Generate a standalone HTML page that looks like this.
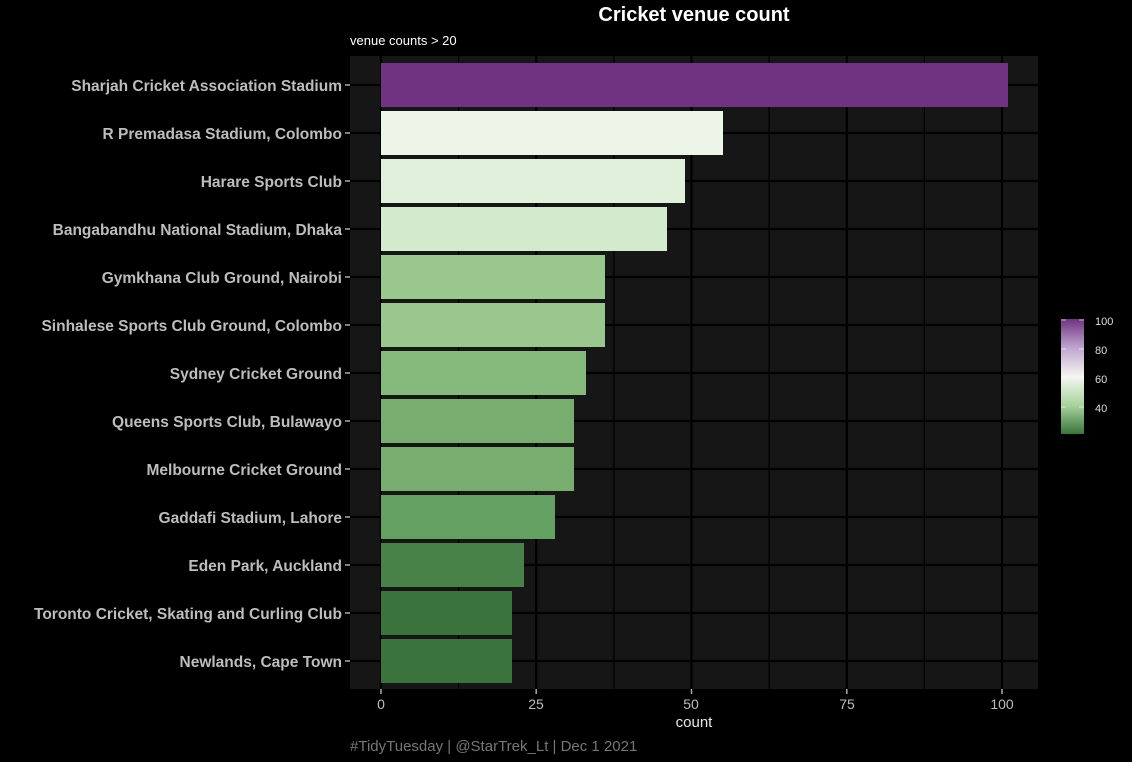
<!DOCTYPE html>
<html><head><style>
body{margin:0;background:#000;width:1132px;height:762px;overflow:hidden}
svg{display:block}
text{font-family:"Liberation Sans",sans-serif}
</style></head><body>
<svg width="1132" height="762" xmlns="http://www.w3.org/2000/svg">
<defs>
<linearGradient id="lg" x1="0" y1="1" x2="0" y2="0">
<stop offset="0" stop-color="#3a743c"/>
<stop offset="0.25" stop-color="#a8d39d"/>
<stop offset="0.5" stop-color="#f4f6f2"/>
<stop offset="0.75" stop-color="#c1a5cf"/>
<stop offset="1" stop-color="#6f3381"/>
</linearGradient>
</defs>
<rect width="1132" height="762" fill="#000"/>
<rect x="350" y="56" width="688" height="633" fill="#161616"/>
<g stroke="#000">
<g stroke-width="1.2">
<line x1="458.6" y1="56" x2="458.6" y2="689"/><line x1="613.9" y1="56" x2="613.9" y2="689"/><line x1="769.1" y1="56" x2="769.1" y2="689"/><line x1="924.4" y1="56" x2="924.4" y2="689"/>
</g>
<g stroke-width="2.2">
<line x1="381" y1="56" x2="381" y2="689"/><line x1="536.2" y1="56" x2="536.2" y2="689"/><line x1="691.5" y1="56" x2="691.5" y2="689"/><line x1="846.8" y1="56" x2="846.8" y2="689"/><line x1="1002" y1="56" x2="1002" y2="689"/>
<line x1="350" y1="85" x2="1038" y2="85"/><line x1="350" y1="133" x2="1038" y2="133"/><line x1="350" y1="181" x2="1038" y2="181"/><line x1="350" y1="229" x2="1038" y2="229"/><line x1="350" y1="277" x2="1038" y2="277"/><line x1="350" y1="325" x2="1038" y2="325"/><line x1="350" y1="373" x2="1038" y2="373"/><line x1="350" y1="421" x2="1038" y2="421"/><line x1="350" y1="469" x2="1038" y2="469"/><line x1="350" y1="517" x2="1038" y2="517"/><line x1="350" y1="565" x2="1038" y2="565"/><line x1="350" y1="613" x2="1038" y2="613"/><line x1="350" y1="661" x2="1038" y2="661"/>
</g>
</g>
<g>
<rect x="381" y="63" width="627" height="44" fill="#6f3381"/>
<rect x="381" y="111" width="342" height="44" fill="#edf5e9"/>
<rect x="381" y="159" width="304" height="44" fill="#e0f0da"/>
<rect x="381" y="207" width="286" height="44" fill="#d4eacc"/>
<rect x="381" y="255" width="224" height="44" fill="#9ac78d"/>
<rect x="381" y="303" width="224" height="44" fill="#9ac78d"/>
<rect x="381" y="351" width="205" height="44" fill="#86b97c"/>
<rect x="381" y="399" width="193" height="44" fill="#79ac6f"/>
<rect x="381" y="447" width="193" height="44" fill="#79ac6f"/>
<rect x="381" y="495" width="174" height="44" fill="#65a063"/>
<rect x="381" y="543" width="143" height="44" fill="#488248"/>
<rect x="381" y="591" width="131" height="44" fill="#3a743c"/>
<rect x="381" y="639" width="131" height="44" fill="#3a743c"/>
</g>
<g stroke="#aaa" stroke-width="1.5">
<line x1="345" y1="85" x2="350" y2="85"/><line x1="345" y1="133" x2="350" y2="133"/><line x1="345" y1="181" x2="350" y2="181"/><line x1="345" y1="229" x2="350" y2="229"/><line x1="345" y1="277" x2="350" y2="277"/><line x1="345" y1="325" x2="350" y2="325"/><line x1="345" y1="373" x2="350" y2="373"/><line x1="345" y1="421" x2="350" y2="421"/><line x1="345" y1="469" x2="350" y2="469"/><line x1="345" y1="517" x2="350" y2="517"/><line x1="345" y1="565" x2="350" y2="565"/><line x1="345" y1="613" x2="350" y2="613"/><line x1="345" y1="661" x2="350" y2="661"/>
<line x1="381" y1="689" x2="381" y2="694"/><line x1="536.2" y1="689" x2="536.2" y2="694"/><line x1="691.5" y1="689" x2="691.5" y2="694"/><line x1="846.8" y1="689" x2="846.8" y2="694"/><line x1="1002" y1="689" x2="1002" y2="694"/>
</g>
<g fill="#bdbdbd" font-size="15.5" font-weight="bold" text-anchor="end">
<text x="342" y="91">Sharjah Cricket Association Stadium</text>
<text x="342" y="139">R Premadasa Stadium, Colombo</text>
<text x="342" y="187">Harare Sports Club</text>
<text x="342" y="235">Bangabandhu National Stadium, Dhaka</text>
<text x="342" y="283">Gymkhana Club Ground, Nairobi</text>
<text x="342" y="331">Sinhalese Sports Club Ground, Colombo</text>
<text x="342" y="379">Sydney Cricket Ground</text>
<text x="342" y="427">Queens Sports Club, Bulawayo</text>
<text x="342" y="475">Melbourne Cricket Ground</text>
<text x="342" y="523">Gaddafi Stadium, Lahore</text>
<text x="342" y="571">Eden Park, Auckland</text>
<text x="342" y="619">Toronto Cricket, Skating and Curling Club</text>
<text x="342" y="667">Newlands, Cape Town</text>
</g>
<g fill="#bdbdbd" font-size="14" text-anchor="middle">
<text x="381" y="709">0</text><text x="536" y="709">25</text><text x="691" y="709">50</text><text x="847" y="709">75</text><text x="1002" y="709">100</text>
</g>
<text x="694" y="727" fill="#e6e6e6" font-size="15" text-anchor="middle">count</text>
<text x="694" y="21" fill="#fff" font-size="20" font-weight="bold" text-anchor="middle">Cricket venue count</text>
<text x="350" y="45" fill="#fff" font-size="13">venue counts &gt; 20</text>
<text x="350" y="751" fill="#777" font-size="15">#TidyTuesday | @StarTrek_Lt | Dec 1 2021</text>
<rect x="1061" y="319" width="23" height="115" fill="url(#lg)"/>
<g stroke="#fff" stroke-opacity="0.6" stroke-width="1">
<line x1="1061" y1="320" x2="1066" y2="320"/><line x1="1079" y1="320" x2="1084" y2="320"/>
<line x1="1061" y1="349" x2="1066" y2="349"/><line x1="1079" y1="349" x2="1084" y2="349"/>
<line x1="1061" y1="378" x2="1066" y2="378"/><line x1="1079" y1="378" x2="1084" y2="378"/>
<line x1="1061" y1="407" x2="1066" y2="407"/><line x1="1079" y1="407" x2="1084" y2="407"/>
</g>
<g fill="#ddd" font-size="11">
<text x="1095" y="325">100</text><text x="1095" y="354">80</text><text x="1095" y="383">60</text><text x="1095" y="412">40</text>
</g>
</svg>
</body></html>
